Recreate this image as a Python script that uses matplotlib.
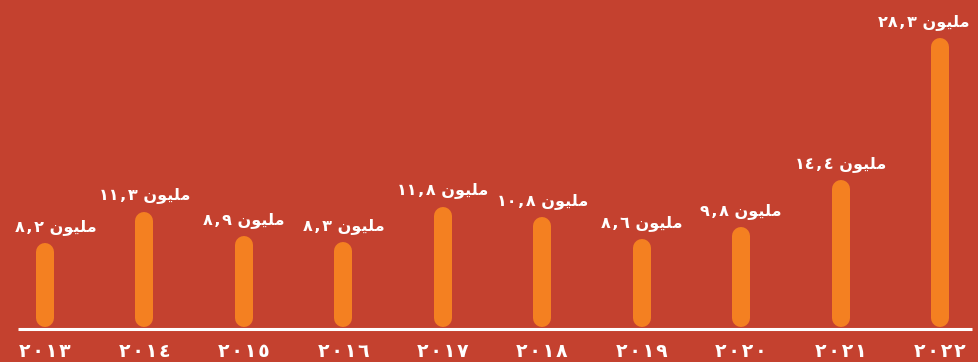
import matplotlib
matplotlib.use("Agg")
import matplotlib.pyplot as plt

years = [2013, 2014, 2015, 2016, 2017, 2018, 2019, 2020, 2021, 2022]
values = [8.2, 11.3, 8.9, 8.3, 11.8, 10.8, 8.6, 9.8, 14.4, 28.3]

BG = "#C4412F"
BAR = "#F48021"
FG = "#FFFFFF"

ARABIC_DIGITS = str.maketrans("0123456789", "٠١٢٣٤٥٦٧٨٩")
# "مليون" written with presentation forms in left-to-right visual order
MILLION = "\uFEE5\uFEEE\uFEF4\uFEE0\uFEE3"
HAIR = "\u200A"


def to_arabic(s, gap=""):
    return gap.join(s.translate(ARABIC_DIGITS))


W, H, DPI = 979, 362, 100
fig = plt.figure(figsize=(W / DPI, H / DPI), dpi=DPI, facecolor=BG)
ax = fig.add_axes([0, 0, 1, 1])
ax.set_facecolor(BG)

# pixel geometry of the plot area
x0_px, step_px = 45.0, 99.44
base_px, unit_px = 35.0, 10.2
ax.set_xlim(-x0_px / step_px, (W - x0_px) / step_px)
ax.set_ylim(-base_px / unit_px, (H - base_px) / unit_px)
ax.axis("off")

bar_w_px = 18.0
lw_pt = bar_w_px * 72.0 / DPI
cap = (bar_w_px / 2) / unit_px  # round cap radius in data units

for i, v in enumerate(values):
    # capsule bar: a thick line whose round caps close it at both ends
    ax.plot([i, i], [cap, v - cap], color=BAR, linewidth=lw_pt,
            solid_capstyle="round", zorder=2)

    num = to_arabic(f"{v:.1f}").replace(".", HAIR + "," + HAIR)
    label = num + " " + MILLION
    dx = 0
    if i == 0:
        dx = 8
    elif i == len(values) - 1:
        dx = -12
    ax.annotate(label, (i, v), xytext=(dx, 6), textcoords="offset points",
                ha="center", va="bottom", color=FG, fontsize=11.5,
                fontweight="bold", family="DejaVu Sans", zorder=3)

    ax.text(i, -1.5, to_arabic(str(years[i]), HAIR), ha="center",
            va="top", color=FG, fontsize=13.5, fontweight="bold",
            family="DejaVu Sans")

# baseline
ax.plot([-27 / step_px, (972 - x0_px) / step_px], [-0.15, -0.15],
        color=FG, linewidth=2.2, solid_capstyle="butt", zorder=3)

fig.savefig("out.png", dpi=DPI, facecolor=BG)
